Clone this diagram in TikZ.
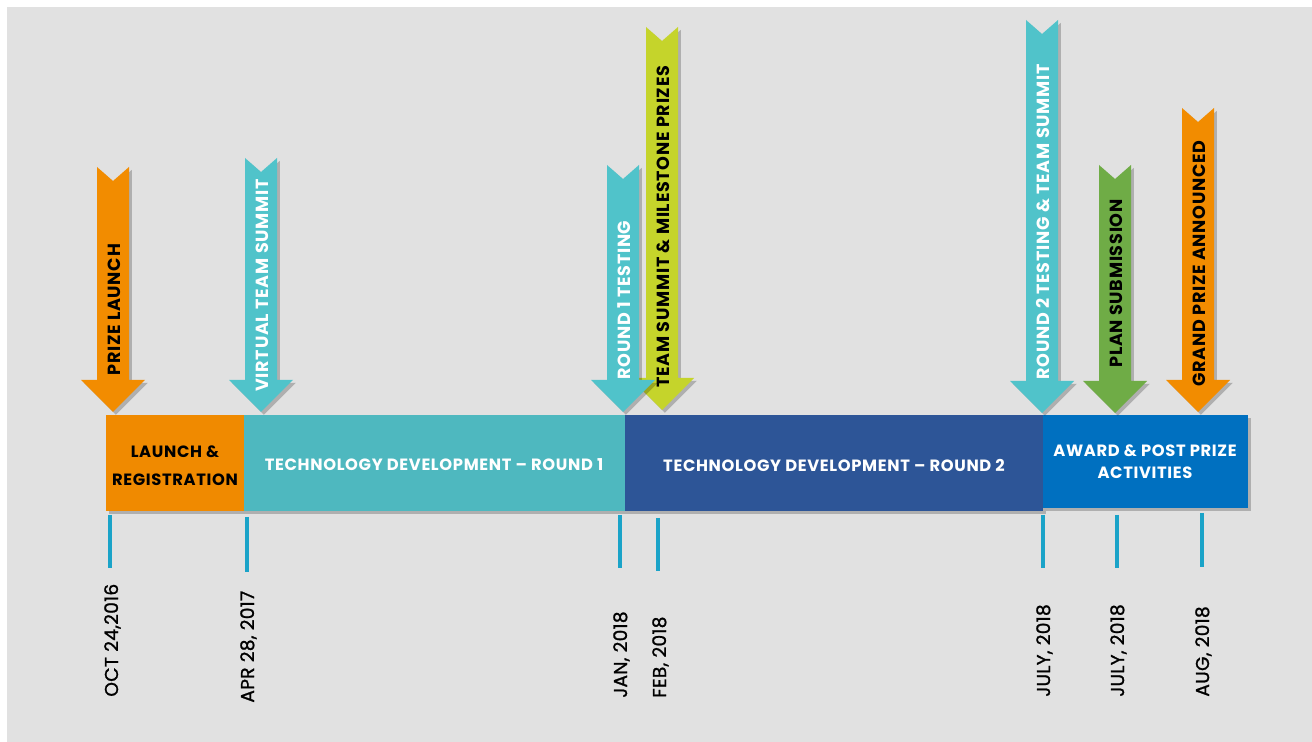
\documentclass[tikz,border=0pt]{standalone}
\usepackage{fontspec}
\setmainfont{Poppins}
\newfontfamily\lblfont{Poppins}[LetterSpace=4]
\newfontfamily\datefont{Poppins}[LetterSpace=1.5,FakeBold=1.2]
\usetikzlibrary{shadows}
\definecolor{bgc}{HTML}{E1E1E1}
\definecolor{barorange}{HTML}{F08A00}
\definecolor{barteal}{HTML}{4EB8BF}
\definecolor{bardblue}{HTML}{2D5597}
\definecolor{barblue}{HTML}{0070C0}
\definecolor{arrorange}{HTML}{F28C00}
\definecolor{arrteal}{HTML}{50C3CA}
\definecolor{arrlime}{HTML}{C5D42B}
\definecolor{arrgreen}{HTML}{6FAC46}
\definecolor{tickc}{HTML}{1AA3C8}
\tikzset{
  shad/.style={drop shadow={opacity=0.22,shadow xshift=1.6pt,shadow yshift=-1.6pt,fill=black}},
  barbox/.style={shad},
  arrlbl/.style={rotate=90,anchor=base west,inner sep=0pt,font=\lblfont\bfseries\fontsize{10}{12}\selectfont},
  barlbl/.style={inner sep=0pt,align=center,font=\lblfont\bfseries\fontsize{9.3}{16}\selectfont},
  datelbl/.style={rotate=90,anchor=base west,inner sep=0pt,text=black,font=\datefont\fontsize{10.6}{12}\selectfont},
  tickline/.style={draw=tickc,line width=2.2pt}
}
\newcommand\dnarrow[4]{%
  \fill[#4,shad] (#1-16,#2) -- (#1,#2+14) -- (#1+16,#2) -- (#1+16,#3-32) -- (#1+32,#3-32) -- (#1,#3) -- (#1-32,#3-32) -- (#1-16,#3-32) -- cycle;}
\begin{document}
\begin{tikzpicture}[x=0.02cm,y=-0.02cm]
\useasboundingbox (0,0) rectangle (1312,742);
\fill[bgc] (7,7) rectangle (1312,742);

% bars
\fill[barorange,barbox] (106,415) rectangle (244,511);
\fill[barteal,barbox] (244,415) rectangle (625,511);
\fill[bardblue,barbox] (625,415) rectangle (1043,511);
\fill[barblue,barbox] (1043,415) rectangle (1248,508);

\node[barlbl,text=black] (b1) at (175,466) {LAUNCH \&\\REGISTRATION};
\node[barlbl,text=white] (b2) at (434,465) {TECHNOLOGY DEVELOPMENT – ROUND 1};
\node[barlbl,text=white] (b3) at (834,465) {TECHNOLOGY DEVELOPMENT – ROUND 2};
\node[barlbl,text=white,font=\lblfont\bfseries\fontsize{9.3}{12.5}\selectfont] (b4) at (1145,462) {AWARD \& POST PRIZE\\ACTIVITIES};

% arrows
\dnarrow{113}{167}{412}{arrorange}
\dnarrow{261}{158}{412}{arrteal}
\dnarrow{662}{27}{410}{arrlime}
\dnarrow{623}{165}{412}{arrteal}
\dnarrow{1042}{20}{413}{arrteal}
\dnarrow{1115}{165}{413}{arrgreen}
\dnarrow{1198}{108}{412}{arrorange}

\node[arrlbl,text=black] (a1) at (120,376) {PRIZE LAUNCH};
\node[arrlbl,text=white] (a2) at (268,392) {VIRTUAL TEAM SUMMIT};
\node[arrlbl,text=black] (a3) at (669,388) {TEAM SUMMIT \& MILESTONE PRIZES};
\node[arrlbl,text=white] (a4) at (630,380) {ROUND 1 TESTING};
\node[arrlbl,text=white] (a5) at (1049,380) {ROUND 2 TESTING \& TEAM SUMMIT};
\node[arrlbl,text=black] (a6) at (1122,368) {PLAN SUBMISSION};
\node[arrlbl,text=black] (a7) at (1205,387) {GRAND PRIZE ANNOUNCED};

% ticks
\draw[tickline] (110,515) -- (110,568);
\draw[tickline] (247,517) -- (247,572);
\draw[tickline] (620,515) -- (620,568);
\draw[tickline] (658,518) -- (658,571);
\draw[tickline] (1043,515) -- (1043,568);
\draw[tickline] (1117,515) -- (1117,568);
\draw[tickline] (1202,513) -- (1202,567);

% dates
\node[datelbl] (d1) at (118,697) {OCT 24,2016};
\node[datelbl] (d2) at (254,703) {APR 28, 2017};
\node[datelbl] (d3) at (627,698) {JAN, 2018};
\node[datelbl] (d4) at (666,698) {FEB, 2018};
\node[datelbl] (d5) at (1050,697) {JULY, 2018};
\node[datelbl] (d6) at (1124,697) {JULY, 2018};
\node[datelbl] (d7) at (1209,697) {AUG, 2018};
\end{tikzpicture}
\end{document}
